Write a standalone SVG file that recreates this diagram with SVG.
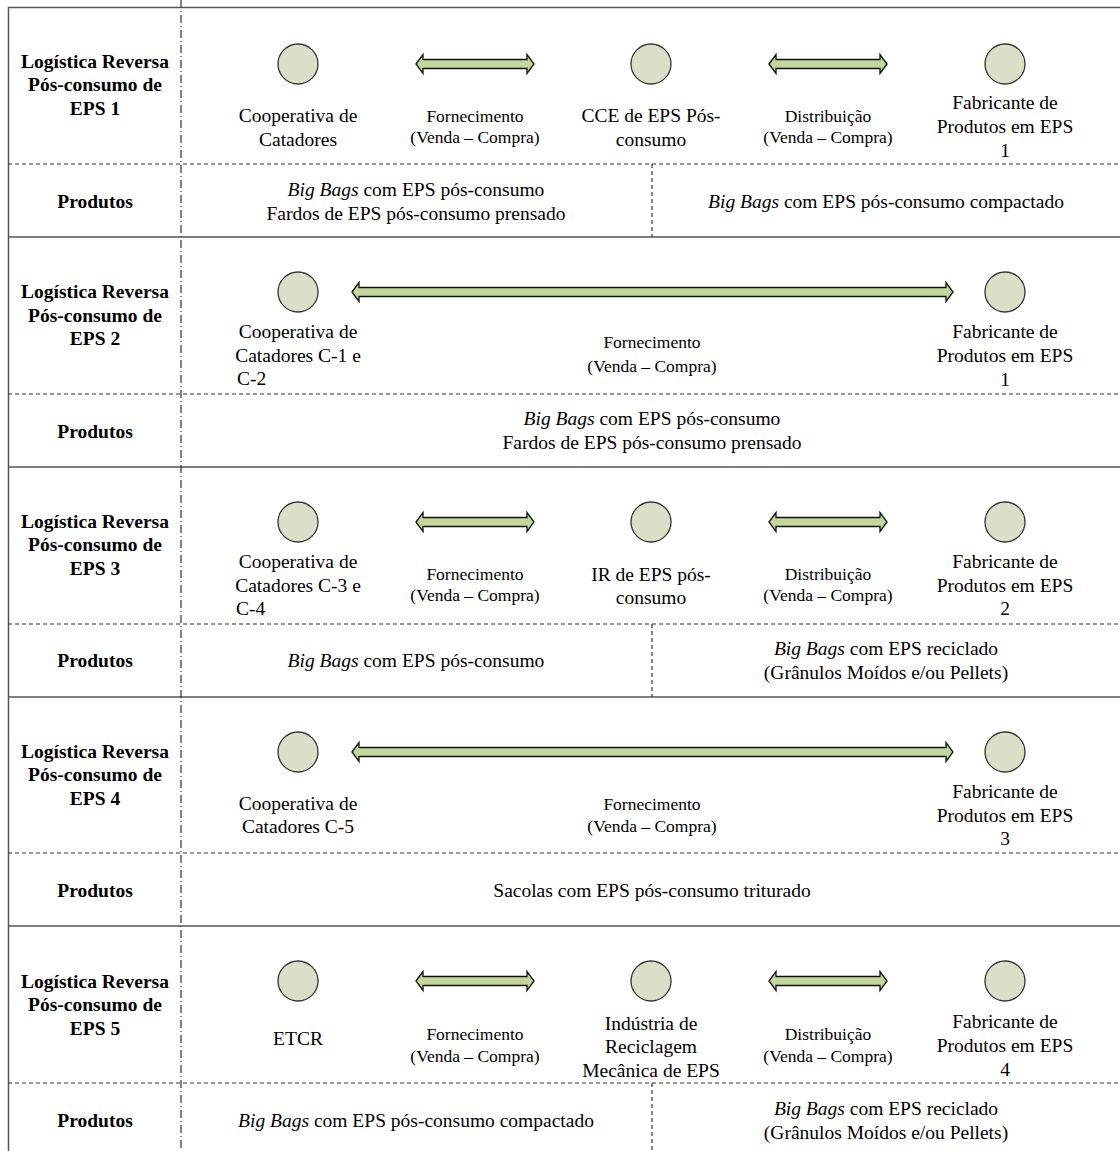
<svg xmlns="http://www.w3.org/2000/svg" width="1120" height="1151" viewBox="0 0 1120 1151">
<style>
text{font-family:"Liberation Serif","Times New Roman",serif;fill:#000;text-anchor:middle}
.t{font-size:19.5px}
.s{font-size:17.5px}
.b{font-size:19.5px;font-weight:bold}
.i{font-style:italic}
.solid{stroke:#555;stroke-width:1.5;fill:none}
.dash{stroke:#333;stroke-width:1.2;stroke-dasharray:4 3;fill:none}
.dd{stroke:#333;stroke-width:1.2;stroke-dasharray:8 3 1 3;fill:none}
.node{fill:#dcdfc8;stroke:#333;stroke-width:1.3}
.arr{fill:#c4d79b;stroke:#111;stroke-width:1.3;stroke-linejoin:miter}
</style>
<rect width="1120" height="1151" fill="#fff"/>
<g id="grid">
<line class="solid" x1="8" y1="7.5" x2="1120" y2="7.5"/>
<line class="solid" x1="8.5" y1="7" x2="8.5" y2="1151"/>
<line class="solid" x1="8" y1="237" x2="1120" y2="237"/>
<line class="solid" x1="8" y1="467" x2="1120" y2="467"/>
<line class="solid" x1="8" y1="697" x2="1120" y2="697"/>
<line class="solid" x1="8" y1="926" x2="1120" y2="926"/>
<line class="dash" x1="8" y1="164" x2="1120" y2="164"/>
<line class="dash" x1="8" y1="394" x2="1120" y2="394"/>
<line class="dash" x1="8" y1="624" x2="1120" y2="624"/>
<line class="dash" x1="8" y1="853" x2="1120" y2="853"/>
<line class="dash" x1="8" y1="1083" x2="1120" y2="1083"/>
<line class="dd" x1="181" y1="0" x2="181" y2="1151"/>
<line class="dash" x1="652" y1="164" x2="652" y2="237"/>
<line class="dash" x1="652" y1="624" x2="652" y2="697"/>
<line class="dash" x1="652" y1="1083" x2="652" y2="1151"/>
</g>
<g id="connectors">
<path class="arr" d="M416,64 L423,54.5 L423,59.5 L527,59.5 L527,54.5 L534,64 L527,73.5 L527,68.5 L423,68.5 L423,73.5 Z"/>
<path class="arr" d="M769,64 L776,54.5 L776,59.5 L880,59.5 L880,54.5 L887,64 L880,73.5 L880,68.5 L776,68.5 L776,73.5 Z"/>
<path class="arr" d="M352,292 L359,282.5 L359,287.5 L946,287.5 L946,282.5 L953,292 L946,301.5 L946,296.5 L359,296.5 L359,301.5 Z"/>
<path class="arr" d="M416,522 L423,512.5 L423,517.5 L527,517.5 L527,512.5 L534,522 L527,531.5 L527,526.5 L423,526.5 L423,531.5 Z"/>
<path class="arr" d="M769,522 L776,512.5 L776,517.5 L880,517.5 L880,512.5 L887,522 L880,531.5 L880,526.5 L776,526.5 L776,531.5 Z"/>
<path class="arr" d="M352,752 L359,742.5 L359,747.5 L946,747.5 L946,742.5 L953,752 L946,761.5 L946,756.5 L359,756.5 L359,761.5 Z"/>
<path class="arr" d="M416,981 L423,971.5 L423,976.5 L527,976.5 L527,971.5 L534,981 L527,990.5 L527,985.5 L423,985.5 L423,990.5 Z"/>
<path class="arr" d="M769,981 L776,971.5 L776,976.5 L880,976.5 L880,971.5 L887,981 L880,990.5 L880,985.5 L776,985.5 L776,990.5 Z"/>
<text class="s" x="475" y="122">Fornecimento</text>
<text class="s" x="475" y="143">(Venda – Compra)</text>
<text class="s" x="828" y="122">Distribuição</text>
<text class="s" x="828" y="143">(Venda – Compra)</text>
<text class="s" x="652" y="348">Fornecimento</text>
<text class="s" x="652" y="372">(Venda – Compra)</text>
<text class="s" x="475" y="580">Fornecimento</text>
<text class="s" x="475" y="601">(Venda – Compra)</text>
<text class="s" x="828" y="580">Distribuição</text>
<text class="s" x="828" y="601">(Venda – Compra)</text>
<text class="s" x="652" y="810">Fornecimento</text>
<text class="s" x="652" y="832">(Venda – Compra)</text>
<text class="s" x="475" y="1040">Fornecimento</text>
<text class="s" x="475" y="1062">(Venda – Compra)</text>
<text class="s" x="828" y="1040">Distribuição</text>
<text class="s" x="828" y="1062">(Venda – Compra)</text>
</g>
<g id="section1">
<text class="b" x="95" y="67.5">Logística Reversa</text>
<text class="b" x="95" y="90.5">Pós-consumo de</text>
<text class="b" x="95" y="114.5">EPS 1</text>
<text class="b" x="95" y="207.5">Produtos</text>
<text class="t" x="416" y="195.5"><tspan class="i">Big Bags</tspan> com EPS pós-consumo</text>
<text class="t" x="416" y="219.5">Fardos de EPS pós-consumo prensado</text>
<text class="t" x="886" y="207.5"><tspan class="i">Big Bags</tspan> com EPS pós-consumo compactado</text>
</g>
<g id="s1-coop"><circle class="node" cx="298" cy="64" r="20"/><text class="t" x="298" y="121.5">Cooperativa de</text><text class="t" x="298" y="145.5">Catadores</text></g>
<g id="s1-cce"><circle class="node" cx="651" cy="64" r="20"/><text class="t" x="651" y="121.5">CCE de EPS Pós-</text><text class="t" x="651" y="145.5">consumo</text></g>
<g id="s1-fab"><circle class="node" cx="1005" cy="64" r="20"/><text class="t" x="1005" y="108.5">Fabricante de</text><text class="t" x="1005" y="132.5">Produtos em EPS</text><text class="t" x="1005" y="156.5">1</text></g>
<g id="section2">
<text class="b" x="95" y="297.5">Logística Reversa</text>
<text class="b" x="95" y="321.5">Pós-consumo de</text>
<text class="b" x="95" y="344.5">EPS 2</text>
<text class="b" x="95" y="437.5">Produtos</text>
<text class="t" x="652" y="424.5"><tspan class="i">Big Bags</tspan> com EPS pós-consumo</text>
<text class="t" x="652" y="448.5">Fardos de EPS pós-consumo prensado</text>
</g>
<g id="s2-coop"><circle class="node" cx="298" cy="292" r="20"/><text class="t" x="298" y="337.5">Cooperativa de</text><text class="t" x="298" y="361.5">Catadores C-1 e</text><text class="t" x="237" y="384.5" style="text-anchor:start">C-2</text></g>
<g id="s2-fab"><circle class="node" cx="1005" cy="292" r="20"/><text class="t" x="1005" y="337.5">Fabricante de</text><text class="t" x="1005" y="361.5">Produtos em EPS</text><text class="t" x="1005" y="385.5">1</text></g>
<g id="section3">
<text class="b" x="95" y="527.5">Logística Reversa</text>
<text class="b" x="95" y="550.5">Pós-consumo de</text>
<text class="b" x="95" y="574.5">EPS 3</text>
<text class="b" x="95" y="666.5">Produtos</text>
<text class="t" x="416" y="666.5"><tspan class="i">Big Bags</tspan> com EPS pós-consumo</text>
<text class="t" x="886" y="654.5"><tspan class="i">Big Bags</tspan> com EPS reciclado</text>
<text class="t" x="886" y="678.5">(Grânulos Moídos e/ou Pellets)</text>
</g>
<g id="s3-coop"><circle class="node" cx="298" cy="522" r="20"/><text class="t" x="298" y="567.5">Cooperativa de</text><text class="t" x="298" y="591.5">Catadores C-3 e</text><text class="t" x="236" y="614.5" style="text-anchor:start">C-4</text></g>
<g id="s3-ir"><circle class="node" cx="651" cy="522" r="20"/><text class="t" x="651" y="580.5">IR de EPS pós-</text><text class="t" x="651" y="603.5">consumo</text></g>
<g id="s3-fab"><circle class="node" cx="1005" cy="522" r="20"/><text class="t" x="1005" y="567.5">Fabricante de</text><text class="t" x="1005" y="591.5">Produtos em EPS</text><text class="t" x="1005" y="614.5">2</text></g>
<g id="section4">
<text class="b" x="95" y="757.5">Logística Reversa</text>
<text class="b" x="95" y="780.5">Pós-consumo de</text>
<text class="b" x="95" y="804.5">EPS 4</text>
<text class="b" x="95" y="896.5">Produtos</text>
<text class="t" x="652" y="896.5">Sacolas com EPS pós-consumo triturado</text>
</g>
<g id="s4-coop"><circle class="node" cx="298" cy="752" r="20"/><text class="t" x="298" y="809.5">Cooperativa de</text><text class="t" x="298" y="832.5">Catadores C-5</text></g>
<g id="s4-fab"><circle class="node" cx="1005" cy="752" r="20"/><text class="t" x="1005" y="797.5">Fabricante de</text><text class="t" x="1005" y="821.5">Produtos em EPS</text><text class="t" x="1005" y="844.5">3</text></g>
<g id="section5">
<text class="b" x="95" y="987.5">Logística Reversa</text>
<text class="b" x="95" y="1010.5">Pós-consumo de</text>
<text class="b" x="95" y="1034.5">EPS 5</text>
<text class="b" x="95" y="1126.5">Produtos</text>
<text class="t" x="416" y="1126.5"><tspan class="i">Big Bags</tspan> com EPS pós-consumo compactado</text>
<text class="t" x="886" y="1114.5"><tspan class="i">Big Bags</tspan> com EPS reciclado</text>
<text class="t" x="886" y="1138.5">(Grânulos Moídos e/ou Pellets)</text>
</g>
<g id="s5-etcr"><circle class="node" cx="298" cy="981" r="20"/><text class="t" x="298" y="1044.5">ETCR</text></g>
<g id="s5-ind"><circle class="node" cx="651" cy="981" r="20"/><text class="t" x="651" y="1029.5">Indústria de</text><text class="t" x="651" y="1052.5">Reciclagem</text><text class="t" x="651" y="1076.5">Mecânica de EPS</text></g>
<g id="s5-fab"><circle class="node" cx="1005" cy="981" r="20"/><text class="t" x="1005" y="1027.5">Fabricante de</text><text class="t" x="1005" y="1051.5">Produtos em EPS</text><text class="t" x="1005" y="1075.5">4</text></g>
</svg>
